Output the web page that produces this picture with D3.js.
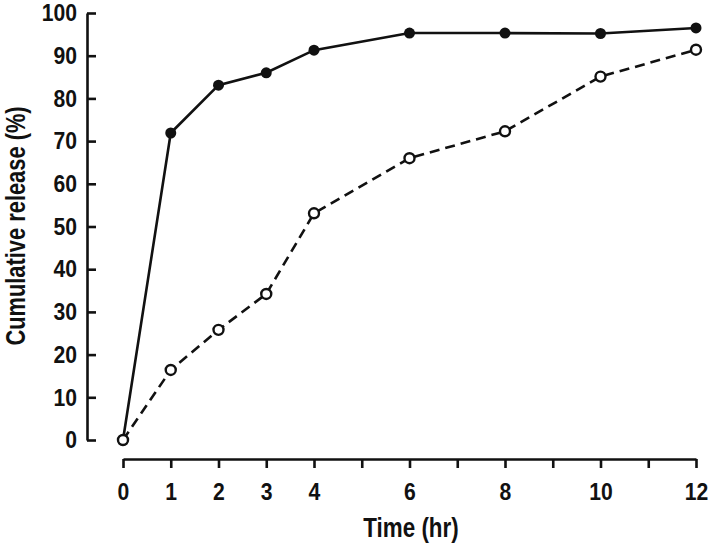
<!DOCTYPE html>
<html>
<head>
<meta charset="utf-8">
<script src="https://cdn.jsdelivr.net/npm/d3@7"></script>
<style>
  body { margin: 0; background: #fff; }
  text { font-family: "Liberation Sans", Arial, sans-serif; font-weight: bold; fill: #111; }
</style>
</head>
<body>
<svg id="chart" width="709" height="544"></svg>
<script>
// data
var times = [0, 1, 2, 3, 4, 6, 8, 10, 12];
var solidRelease = [0, 71.9, 83.1, 86.0, 91.3, 95.3, 95.3, 95.2, 96.5];
var dashedRelease = [0, 16.4, 25.8, 34.2, 53.1, 66.0, 72.3, 85.1, 91.4];
var xTicks = [0, 1, 2, 3, 4, 5, 6, 7, 8, 9, 10, 11, 12];
var xLabels = [0, 1, 2, 3, 4, 6, 8, 10, 12];
var yTicks = [0, 10, 20, 30, 40, 50, 60, 70, 80, 90, 100];

var svg = d3.select('#chart');

var x = d3.scaleLinear().domain([0, 12]).range([123, 696]);
var y = d3.scaleLinear().domain([0, 100]).range([440, 13]);

// y axis, ticks pointing inward
var yAxis = svg.append('g')
  .attr('transform', 'translate(87,0)')
  .call(d3.axisRight(y).tickValues(yTicks).tickSize(9).tickSizeOuter(0).tickFormat(''));
yAxis.select('.domain').attr('stroke', '#111').attr('stroke-width', 2.6);
yAxis.selectAll('.tick line').attr('stroke', '#111').attr('stroke-width', 2.6);

// condensed look: squeeze the bold font horizontally
svg.selectAll('.ylab')
  .data(yTicks)
  .enter().append('text')
  .attr('class', 'ylab')
  .attr('transform', function(d) { return 'translate(77,' + y(d) + ') scale(0.92,1)'; })
  .attr('dy', '0.36em')
  .attr('text-anchor', 'end')
  .attr('font-size', 23)
  .text(function(d) { return d; });

// x axis, detached below the plot
var xAxis = svg.append('g')
  .attr('transform', 'translate(0,459)')
  .call(d3.axisBottom(x).tickValues(xTicks).tickSize(9).tickSizeOuter(0)
    .tickFormat(function(d) { return xLabels.indexOf(d) >= 0 ? d : ''; }));
xAxis.select('.domain').attr('stroke', '#111').attr('stroke-width', 2.6);
xAxis.selectAll('.tick line').attr('stroke', '#111').attr('stroke-width', 2.6);
xAxis.selectAll('.tick text')
  .attr('y', 24)
  .attr('transform', 'scale(0.9,1)')
  .attr('font-size', 23.5)
  .style('font-family', '"Liberation Sans", Arial, sans-serif')
  .style('font-weight', 'bold')
  .attr('fill', '#111');

var line = d3.line()
  .x(function(d, i) { return x(times[i]); })
  .y(function(d) { return y(d); });

svg.append('path')
  .datum(dashedRelease)
  .attr('fill', 'none')
  .attr('stroke', '#111')
  .attr('stroke-width', 2.6)
  .attr('stroke-dasharray', '10,6')
  .attr('d', line);

svg.append('path')
  .datum(solidRelease)
  .attr('fill', 'none')
  .attr('stroke', '#111')
  .attr('stroke-width', 2.6)
  .attr('d', line);

svg.selectAll('.solidPt')
  .data(solidRelease)
  .enter().append('circle')
  .attr('class', 'solidPt')
  .attr('cx', function(d, i) { return x(times[i]); })
  .attr('cy', function(d) { return y(d); })
  .attr('r', 5.5)
  .attr('fill', '#111');

svg.selectAll('.openPt')
  .data(dashedRelease)
  .enter().append('circle')
  .attr('class', 'openPt')
  .attr('cx', function(d, i) { return x(times[i]); })
  .attr('cy', function(d) { return y(d); })
  .attr('r', 5)
  .attr('fill', '#fff')
  .attr('stroke', '#111')
  .attr('stroke-width', 2.4);

svg.append('text')
  .attr('transform', 'translate(411,537) scale(0.8,1)')
  .attr('text-anchor', 'middle')
  .attr('font-size', 28)
  .text('Time (hr)');

svg.append('text')
  .attr('transform', 'translate(25,226) rotate(-90) scale(0.81,1)')
  .attr('text-anchor', 'middle')
  .attr('font-size', 27)
  .text('Cumulative release (%)');
</script>
</body>
</html>
